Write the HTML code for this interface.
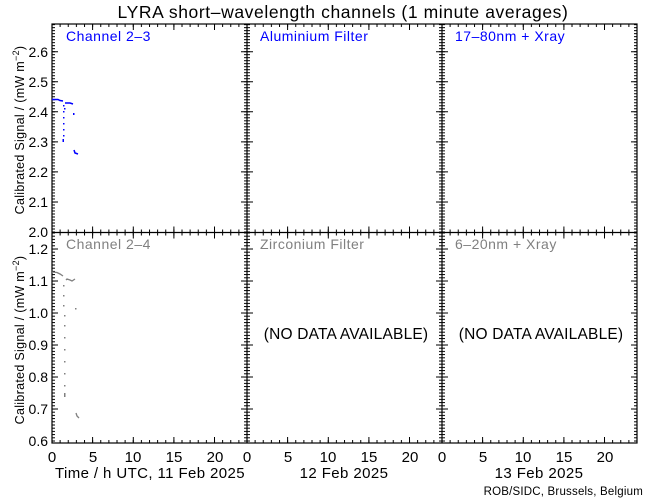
<!DOCTYPE html>
<html><head><meta charset="utf-8"><style>
html,body{margin:0;padding:0;background:#fff;}
svg{display:block;font-family:"Liberation Sans",sans-serif;}
</style></head><body>
<svg width="650" height="500" viewBox="0 0 650 500" xmlns="http://www.w3.org/2000/svg">
<defs>
<pattern id="px" patternUnits="userSpaceOnUse" x="51.5" y="0" width="8.125" height="500"><rect x="0" y="0" width="1" height="500" fill="#000"/></pattern>
<pattern id="pyt" patternUnits="userSpaceOnUse" x="0" y="231.5" width="650" height="3.005"><rect x="0" y="0" width="650" height="1" fill="#000"/></pattern>
<pattern id="pyb" patternUnits="userSpaceOnUse" x="0" y="440.5" width="650" height="3.2"><rect x="0" y="0" width="650" height="1" fill="#000"/></pattern>
</defs>
<rect width="650" height="500" fill="#fff"/>
<text x="343" y="18" font-size="17.5" text-anchor="middle" fill="#000" letter-spacing="0.6">LYRA short–wavelength channels (1 minute averages)</text>
<g fill="url(#px)">
<rect x="52" y="24" width="585" height="3"/>
<rect x="52" y="229.5" width="585" height="6"/>
<rect x="52" y="440" width="585" height="3"/>
</g>
<g fill="url(#pyt)">
<rect x="52" y="24" width="3" height="208"/>
<rect x="244" y="24" width="6" height="208"/>
<rect x="439" y="24" width="6" height="208"/>
<rect x="634" y="24" width="3" height="208"/>
</g>
<g fill="url(#pyb)">
<rect x="52" y="233" width="3" height="210"/>
<rect x="244" y="233" width="6" height="210"/>
<rect x="439" y="233" width="6" height="210"/>
<rect x="634" y="233" width="3" height="210"/>
</g>
<path stroke="#000" stroke-width="1" fill="none" d="
M92.6 24v6M92.6 226.5v12M92.6 443v-6
M133.3 24v6M133.3 226.5v12M133.3 443v-6
M173.9 24v6M173.9 226.5v12M173.9 443v-6
M214.5 24v6M214.5 226.5v12M214.5 443v-6
M287.6 24v6M287.6 226.5v12M287.6 443v-6
M328.3 24v6M328.3 226.5v12M328.3 443v-6
M368.9 24v6M368.9 226.5v12M368.9 443v-6
M409.5 24v6M409.5 226.5v12M409.5 443v-6
M482.6 24v6M482.6 226.5v12M482.6 443v-6
M523.3 24v6M523.3 226.5v12M523.3 443v-6
M563.9 24v6M563.9 226.5v12M563.9 443v-6
M604.5 24v6M604.5 226.5v12M604.5 443v-6
M52 202h6M241 202h12M436 202h12M637 202h-6
M52 171.9h6M241 171.9h12M436 171.9h12M637 171.9h-6
M52 141.9h6M241 141.9h12M436 141.9h12M637 141.9h-6
M52 111.8h6M241 111.8h12M436 111.8h12M637 111.8h-6
M52 81.8h6M241 81.8h12M436 81.8h12M637 81.8h-6
M52 51.7h6M241 51.7h12M436 51.7h12M637 51.7h-6
M52 249h6M241 249h12M436 249h12M637 249h-6
M52 281h6M241 281h12M436 281h12M637 281h-6
M52 313h6M241 313h12M436 313h12M637 313h-6
M52 345h6M241 345h12M436 345h12M637 345h-6
M52 377h6M241 377h12M436 377h12M637 377h-6
M52 409h6M241 409h12M436 409h12M637 409h-6
"/>
<g fill="none" stroke="#000" stroke-width="1.2">
<rect x="52" y="24" width="585" height="419"/>
<line x1="247" y1="24" x2="247" y2="443"/>
<line x1="442" y1="24" x2="442" y2="443"/>
<line x1="52" y1="232.5" x2="637" y2="232.5"/>
</g>
<g font-size="14" fill="#000" text-anchor="end">
<text x="48" y="57">2.6</text><text x="48" y="87">2.5</text><text x="48" y="117">2.4</text>
<text x="48" y="147">2.3</text><text x="48" y="177">2.2</text><text x="48" y="207">2.1</text><text x="48" y="237">2.0</text>
<text x="48" y="254">1.2</text><text x="48" y="286">1.1</text><text x="48" y="318">1.0</text>
<text x="48" y="350">0.9</text><text x="48" y="382">0.8</text><text x="48" y="414">0.7</text><text x="48" y="446">0.6</text>
</g>
<g font-size="15" fill="#000" text-anchor="middle">
<text x="52" y="462">0</text><text x="93" y="462">5</text><text x="133" y="462">10</text><text x="174" y="462">15</text><text x="215" y="462">20</text>
<text x="247" y="462">0</text><text x="288" y="462">5</text><text x="328" y="462">10</text><text x="369" y="462">15</text><text x="410" y="462">20</text>
<text x="442" y="462">0</text><text x="483" y="462">5</text><text x="523" y="462">10</text><text x="564" y="462">15</text><text x="605" y="462">20</text>
<text x="150" y="478" letter-spacing="0.4">Time / h UTC, 11 Feb 2025</text>
<text x="344" y="478" letter-spacing="0.4">12 Feb 2025</text>
<text x="539" y="478" letter-spacing="0.4">13 Feb 2025</text>
</g>
<text x="643" y="495" font-size="11.5" text-anchor="end" fill="#000" letter-spacing="0.2">ROB/SIDC, Brussels, Belgium</text>
<text transform="translate(24,130) rotate(-90)" font-size="12.5" text-anchor="middle" fill="#000" letter-spacing="0.3">Calibrated Signal / (mW m<tspan dy="-5" font-size="9">−2</tspan><tspan dy="5">)</tspan></text>
<text transform="translate(24,340) rotate(-90)" font-size="12.5" text-anchor="middle" fill="#000" letter-spacing="0.3">Calibrated Signal / (mW m<tspan dy="-5" font-size="9">−2</tspan><tspan dy="5">)</tspan></text>
<g font-size="14" letter-spacing="0.5">
<text x="66" y="41" fill="#0000ff">Channel 2–3</text>
<text x="260" y="41" fill="#0000ff">Aluminium Filter</text>
<text x="455" y="41" fill="#0000ff">17–80nm + Xray</text>
<text x="66" y="249" fill="#808080">Channel 2–4</text>
<text x="260" y="249" fill="#808080">Zirconium Filter</text>
<text x="455" y="249" fill="#808080">6–20nm + Xray</text>
</g>
<g font-size="15.5" fill="#000" text-anchor="middle" letter-spacing="0.2">
<text x="346" y="339">(NO DATA AVAILABLE)</text>
<text x="541" y="339">(NO DATA AVAILABLE)</text>
</g>
<g fill="none" stroke="#0000ff" stroke-width="1.5">
<polyline points="52,99.5 58,99.5 60,100.5 63,101"/>
<polyline points="65,103 70,103 73,104"/>
<polyline points="74,150 75,153 78,154"/>
</g>
<g fill="#0000ff">
<rect x="63" y="105" width="1.5" height="1.5"/><rect x="63" y="111" width="1.5" height="1.5"/><rect x="63" y="117" width="1.5" height="1.5"/><rect x="63" y="123" width="1.5" height="1.5"/><rect x="63" y="129" width="1.5" height="1.5"/><rect x="63" y="135" width="1.5" height="1.5"/><rect x="62.5" y="139" width="1.5" height="3"/><rect x="64" y="108" width="1.5" height="1.5"/><rect x="73" y="113" width="1.5" height="2"/>
</g>
<g fill="none" stroke="#808080" stroke-width="1.3">
<polyline points="52,272 57,272.5 60,274 63,276"/>
<polyline points="66,280 67,279 70,280 72,281 75,279"/>
<polyline points="76,413 77,416 79,418"/>
</g>
<g fill="#808080">
<rect x="63" y="285" width="1.5" height="1.5"/><rect x="63" y="295" width="1.5" height="1.5"/><rect x="63" y="305" width="1.5" height="1.5"/><rect x="64" y="315" width="1.5" height="1.5"/><rect x="64" y="325" width="1.5" height="1.5"/><rect x="64" y="337" width="1.5" height="1.5"/><rect x="64" y="349" width="1.5" height="1.5"/><rect x="64" y="361" width="1.5" height="1.5"/><rect x="64" y="373" width="1.5" height="1.5"/><rect x="64" y="385" width="1.5" height="1.5"/><rect x="64" y="393" width="1.5" height="4"/><rect x="75" y="308" width="1.5" height="1.5"/>
</g>
</svg>
</body></html>
